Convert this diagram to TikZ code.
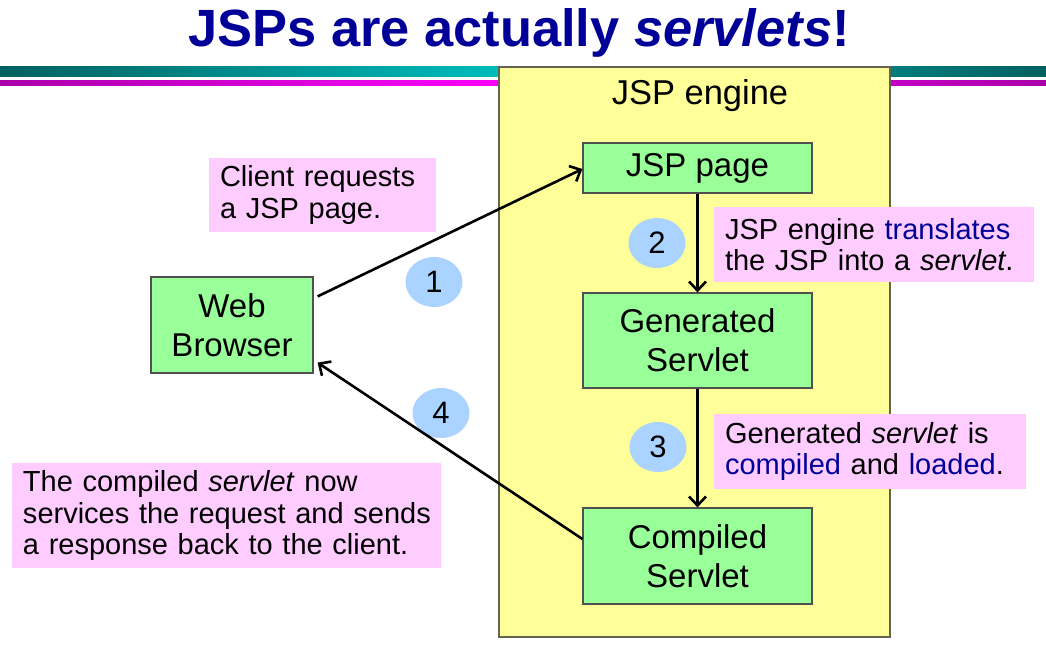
\documentclass[tikz,border=0pt]{standalone}
\usepackage{fontspec}
\setmainfont{Liberation Sans}
\usetikzlibrary{shapes.geometric,arrows.meta}
\definecolor{navy}{RGB}{0,0,153}
\definecolor{tealdark}{RGB}{0,96,96}
\definecolor{tealmid}{RGB}{0,192,192}
\definecolor{magdark}{RGB}{170,0,170}
\definecolor{magmid}{RGB}{255,0,255}
\definecolor{engfill}{RGB}{255,255,153}
\definecolor{boxfill}{RGB}{153,255,153}
\definecolor{notefill}{RGB}{255,204,255}
\definecolor{stepfill}{RGB}{170,212,255}
\definecolor{bordergray}{RGB}{80,80,80}
\tikzset{
  greenbox/.style={draw=bordergray, line width=1.2pt, fill=boxfill, align=center,
    font=\fontsize{33}{39}\selectfont, inner sep=0pt},
  notebox/.style={fill=notefill, align=left, inner xsep=11pt, inner ysep=0pt,
    font=\fontsize{29}{31.5}\selectfont},
  stepmark/.style={ellipse, fill=stepfill, minimum width=57pt, minimum height=50pt,
    inner sep=0pt, font=\fontsize{31}{33}\selectfont},
  flow/.style={line width=2.6pt, -{Straight Barb[length=9pt,width=17pt,line width=2.6pt]}}
}
\begin{document}
\begin{tikzpicture}[x=1pt,y=-1pt]
\useasboundingbox (0,0) rectangle (1046,658);
\fill[white] (0,0) rectangle (1046,658);
% title
\node[font=\fontsize{52.4}{58}\selectfont\bfseries, text=navy] (title) at (519,33) {JSPs are actually \textit{servlets}!};
% bars
\shade[left color=tealdark, right color=tealdark, middle color=tealmid] (0,67) rectangle (1046,77);
\shade[left color=magdark, right color=magdark, middle color=magmid] (0,81) rectangle (1046,86);
% engine
\node[draw={rgb,255:red,100;green,100;blue,80}, line width=1.5pt, fill=engfill, minimum width=391pt, minimum height=570pt, inner sep=0pt] (engine) at (694.5,352) {};
\node[font=\fontsize{34.5}{40}\selectfont] (enginelabel) at (700,96) {JSP engine};
% boxes
\node[greenbox, minimum width=229pt, minimum height=50pt] (jsp) at (697.5,168) {JSP page};
\node[greenbox, minimum width=162pt, minimum height=96pt] (web) at (232,325) {Web\\Browser};
\node[greenbox, minimum width=229pt, minimum height=95pt] (gen) at (697.5,340.5) {Generated\\Servlet};
\node[greenbox, minimum width=229pt, minimum height=96pt] (comp) at (697.5,556) {Compiled\\Servlet};
% notes
\node[notebox, minimum width=227pt, minimum height=74pt, text width=205pt] (n1) at (322.5,195) {Client requests\\a JSP page.};
\node[notebox, minimum width=320pt, minimum height=75pt, text width=298pt] (n2) at (874,244.5) {JSP engine \textcolor{navy}{translates}\\the JSP into a \textit{servlet}.};
\node[notebox, minimum width=312pt, minimum height=75pt, text width=290pt] (n3) at (870,451.5) {Generated \textit{servlet} is\\\textcolor{navy}{compiled} and \textcolor{navy}{loaded}.};
\node[notebox, minimum width=429pt, minimum height=105pt, text width=407pt] (n4) at (226.5,515.5) {\mbox{The compiled \textit{servlet} now}\\\mbox{services the request and sends}\\\mbox{a response back to the client.}};
% step marks
\node[stepmark] (s1) at (434,282) {1};
\node[stepmark] (s2) at (657,243) {2};
\node[stepmark] (s3) at (658,447) {3};
\node[stepmark] (s4) at (441,413) {4};
% connectors
\draw[flow] ([xshift=4pt,yshift=-20pt]web.north east) -- ([yshift=-1pt]jsp.west);
\draw[flow] (jsp.south) -- (gen.north);
\draw[flow] (gen.south) -- (comp.north);
\draw[flow] ([yshift=17pt]comp.west) -- ([xshift=4pt,yshift=11pt]web.south east);
\end{tikzpicture}
\end{document}
